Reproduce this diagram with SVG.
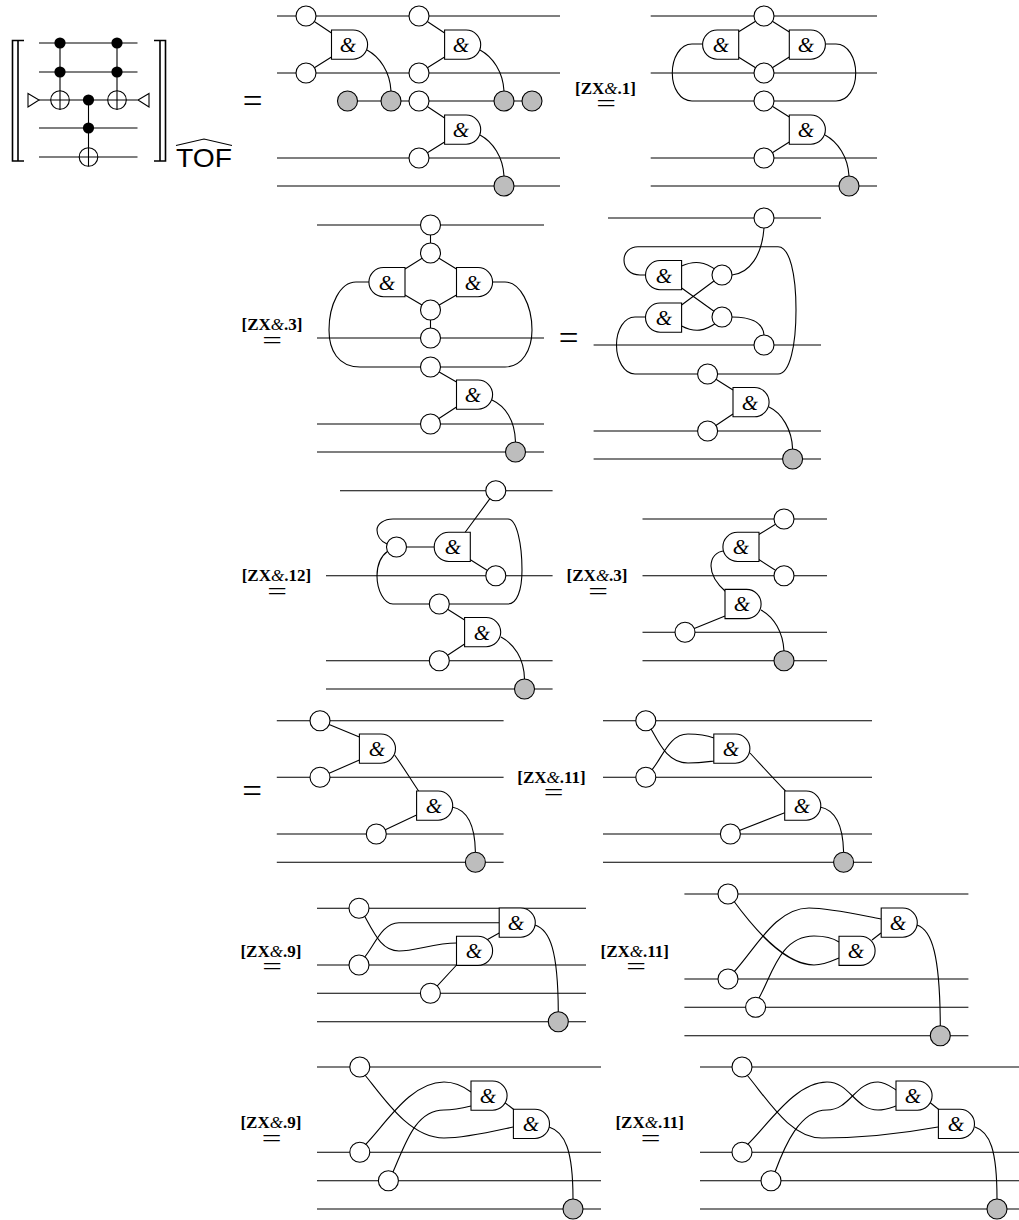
<svg xmlns="http://www.w3.org/2000/svg" width="1019" height="1220" viewBox="0 0 1019 1220">
<style>
text{font-family:"Liberation Serif","Times New Roman",serif;fill:#000}
.w{fill:none;stroke:#000;stroke-width:1.1}
.w line,.w path{fill:none;stroke:#000}
.b{fill:none;stroke:#000;stroke-width:1.6}
.s{fill:#fff;stroke:#000;stroke-width:1.1}
.g{fill:#bdbdbd;stroke:#000;stroke-width:1.1}
.d{fill:#000}
.a{font-style:italic;font-size:21px;text-anchor:middle}
.l{font-weight:bold;font-size:17px}
.m{font-style:italic;font-weight:normal}
.e{font-size:35px;text-anchor:middle}
.t{font-family:"Liberation Sans",Arial,sans-serif;font-size:25px}
</style>
<defs>
<path id="aR" class="s" d="M0,0H21.5A14.6,14.6 0 0 1 21.5,29.2H0Z"/>
<path id="aL" class="s" d="M36,0H14.5A14.6,14.6 0 0 0 14.5,29.2H36Z"/>
<circle id="c" class="s" r="10"/>
<circle id="k" class="g" r="10"/>
<circle id="dot" class="d" r="5.6"/>
<g id="x"><circle class="s" r="9.3"/><path class="w" d="M-9.3,0H9.3M0,-9.3V9.3"/></g>
</defs>

<g id="lhs">
<g id="lhs-wires" class="w">
<path d="M39,43H137.5M39,72H137.5M39,100H137.5M39,128H137.5M39,157H137.5"/>
<path d="M60,43V110M117,43V110M88.5,100V166"/>
</g>
<g id="brL"><path class="b" d="M24,40.5H12.5V161H24M18,40.5V161"/></g>
<g id="brR"><path class="b" d="M154,40.5H165.5V161H154M160,40.5V161"/></g>
<g id="d1"><use href="#dot" x="60" y="43"/></g>
<g id="d2"><use href="#dot" x="60" y="72"/></g>
<g id="d3"><use href="#dot" x="117" y="43"/></g>
<g id="d4"><use href="#dot" x="117" y="72"/></g>
<g id="d5"><use href="#dot" x="88.5" y="100"/></g>
<g id="d6"><use href="#dot" x="88.5" y="128"/></g>
<g id="x1"><use href="#x" x="60" y="100"/></g>
<g id="x2"><use href="#x" x="117" y="100"/></g>
<g id="x3"><use href="#x" x="88.5" y="157"/></g>
<g id="triL"><path class="s" d="M28,93.5V107L39,100Z"/></g>
<g id="triR"><path class="s" d="M149,93.5V107L138,100Z"/></g>
<text class="t" x="176" y="167" textLength="56" lengthAdjust="spacingAndGlyphs">TOF</text>
<path class="w" d="M176,145.5L204,139L232,145.5"/>
</g>

<text class="e" x="252.5" y="113">=</text>

<g id="p1">
<g id="p1-wires" class="w">
<path d="M277,16H560M277,73H560M277,158H560M277,186H560M347.5,101H532"/>
<path d="M306,16L331.5,33M306,73L331.5,57M419,16L444.6,33M419,73L444.6,57M419,101L444.6,118M419,158L444.6,142"/>
<path d="M367,50C380,57 390,72 391,91M480,50C493,57 503,72 504,91M480,135C493,142 503,157 504,176"/>
</g>
<g id="p1c1"><use href="#c" x="306" y="16"/></g>
<g id="p1c2"><use href="#c" x="306" y="73"/></g>
<g id="p1c3"><use href="#c" x="419" y="16"/></g>
<g id="p1c4"><use href="#c" x="419" y="73"/></g>
<g id="p1c5"><use href="#c" x="419" y="101"/></g>
<g id="p1c6"><use href="#c" x="419" y="158"/></g>
<g id="p1k1"><use href="#k" x="347.5" y="101"/></g>
<g id="p1k2"><use href="#k" x="391" y="101"/></g>
<g id="p1k3"><use href="#k" x="504" y="101"/></g>
<g id="p1k4"><use href="#k" x="532" y="101"/></g>
<g id="p1k5"><use href="#k" x="504" y="186"/></g>
<g id="p1a1"><use href="#aR" x="331.5" y="30"/><text class="a" x="348" y="52">&amp;</text></g>
<g id="p1a2"><use href="#aR" x="444.6" y="30"/><text class="a" x="461" y="52">&amp;</text></g>
<g id="p1a3"><use href="#aR" x="444.6" y="115"/><text class="a" x="461" y="137">&amp;</text></g>
</g>

<text class="l" x="575" y="94">[ZX<tspan class="m">&amp;</tspan>.1]</text>
<text class="e" transform="translate(606,111.5) scale(1,.7)">=</text>

<g id="p2">
<g id="p2-wires" class="w">
<path d="M650.7,16H877M650.7,73H877M650.7,158H877M650.7,186H877"/>
<path d="M764,16L738.3,32M764,16L789.3,32M764,73L738.3,57M764,73L789.3,57M764,101L789.3,117M764,158L789.3,142"/>
<path d="M702.7,44H692C680,44 672.3,58 672.3,73C672.3,88 680,101 692,101H836C848,101 855.7,88 855.7,73C855.7,58 848,44 836,44H825.7"/>
<path d="M825,135C838,142 848,157 849,176"/>
</g>
<g id="p2c1"><use href="#c" x="764" y="16"/></g>
<g id="p2c2"><use href="#c" x="764" y="73"/></g>
<g id="p2c3"><use href="#c" x="764" y="101"/></g>
<g id="p2c4"><use href="#c" x="764" y="158"/></g>
<g id="p2k1"><use href="#k" x="849" y="186"/></g>
<g id="p2a1"><use href="#aL" x="702.7" y="30"/><text class="a" x="721" y="52">&amp;</text></g>
<g id="p2a2"><use href="#aR" x="789.3" y="30"/><text class="a" x="806" y="52">&amp;</text></g>
<g id="p2a3"><use href="#aR" x="789.3" y="115"/><text class="a" x="806" y="137">&amp;</text></g>
</g>

<text class="l" x="241.5" y="330">[ZX<tspan class="m">&amp;</tspan>.3]</text>
<text class="e" transform="translate(272,349) scale(1,.7)">=</text>

<g id="p3">
<g id="p3-wires" class="w">
<path d="M317,225H544M317,338H544M317,424H544M317,452H544"/>
<path d="M430.5,225V253M430.5,310V338M430.5,253L405,269M430.5,253L456.5,269M430.5,310L405,295M430.5,310L456.5,295M430.5,367L456.5,382M430.5,424L456.5,407"/>
<path d="M369,282H356C340,282 329,305 329,330C329,350 338,367 360,367H505C522,367 532,350 532,330C532,305 520,282 505,282H492.5"/>
<path d="M492,400C505,406 515,420 515.5,442"/>
</g>
<g id="p3c1"><use href="#c" x="430.5" y="225"/></g>
<g id="p3c2"><use href="#c" x="430.5" y="253"/></g>
<g id="p3c3"><use href="#c" x="430.5" y="310"/></g>
<g id="p3c4"><use href="#c" x="430.5" y="338"/></g>
<g id="p3c5"><use href="#c" x="430.5" y="367"/></g>
<g id="p3c6"><use href="#c" x="430.5" y="424"/></g>
<g id="p3k1"><use href="#k" x="515.5" y="452"/></g>
<g id="p3a1"><use href="#aL" x="369" y="267.5"/><text class="a" x="387" y="289.5">&amp;</text></g>
<g id="p3a2"><use href="#aR" x="456.5" y="267.5"/><text class="a" x="473" y="289.5">&amp;</text></g>
<g id="p3a3"><use href="#aR" x="456.5" y="380"/><text class="a" x="473" y="402">&amp;</text></g>
</g>

<text class="e" x="568.5" y="350">=</text>

<g id="p4">
<g id="p4-wires" class="w">
<path d="M608,218H821M593.6,345H821M593.6,431H821M593.6,459H821"/>
<path d="M681.6,288L722,317M681.6,305L722,275M707.6,374L733,390M707.6,431L733,414"/>
<path d="M681.6,266C695,260 705,262 716,270M681.6,326C695,333 705,331 716,323"/>
<path d="M732,275C750,273 762,255 764,228M732,317C750,317 763,322 764,335"/>
<path d="M645.6,275H640C630,275 624,268 624,260C624,252 630,246.7 638,246.7H778C790,246.7 796,275 796,310C796,345 790,374 778,374H635C624,374 616.5,360 616.5,345C616.5,330 624,317 635,317H645.6"/>
<path d="M769,407C782,413 792,430 792.6,449"/>
</g>
<g id="p4c1"><use href="#c" x="764" y="218"/></g>
<g id="p4c2"><use href="#c" x="722" y="275"/></g>
<g id="p4c3"><use href="#c" x="722" y="317"/></g>
<g id="p4c4"><use href="#c" x="764" y="345"/></g>
<g id="p4c5"><use href="#c" x="707.6" y="374"/></g>
<g id="p4c6"><use href="#c" x="707.6" y="431"/></g>
<g id="p4k1"><use href="#k" x="792.6" y="459"/></g>
<g id="p4a1"><use href="#aL" x="645.6" y="260.5"/><text class="a" x="664" y="282.5">&amp;</text></g>
<g id="p4a2"><use href="#aL" x="645.6" y="303"/><text class="a" x="664" y="325">&amp;</text></g>
<g id="p4a3"><use href="#aR" x="733" y="387.5"/><text class="a" x="750" y="409.5">&amp;</text></g>
</g>

<text class="l" x="241.7" y="580.7">[ZX<tspan class="m">&amp;</tspan>.12]</text>
<text class="e" transform="translate(277,599.5) scale(1,.7)">=</text>

<g id="p5">
<g id="p5-wires" class="w">
<path d="M340,490.7H552.6M326,575.7H552.6M326,660.7H552.6M326,689H552.6"/>
<path d="M396.5,547H434.3M465,532.5L495.8,490.7M470,559.5L495.8,575.7M439.3,604L464.6,620M439.3,660.7L464.6,644"/>
<path d="M387,544C380,541 377,535 377,530C377,524 384,519 393,519H508C517,519 522,545 522,570C522,590 517,604 508,604H393C384,604 377,590 377,576C377,565 381,556 388,551"/>
<path d="M501,637C514,644 524,658 524.5,679"/>
</g>
<g id="p5c1"><use href="#c" x="495.8" y="490.7"/></g>
<g id="p5c2"><use href="#c" x="396.5" y="547"/></g>
<g id="p5c3"><use href="#c" x="495.8" y="575.7"/></g>
<g id="p5c4"><use href="#c" x="439.3" y="604"/></g>
<g id="p5c5"><use href="#c" x="439.3" y="660.7"/></g>
<g id="p5k1"><use href="#k" x="524.5" y="689"/></g>
<g id="p5a1"><use href="#aL" x="434.3" y="532.3"/><text class="a" x="453" y="554.3">&amp;</text></g>
<g id="p5a2"><use href="#aR" x="464.6" y="617.5"/><text class="a" x="482" y="639.5">&amp;</text></g>
</g>

<text class="l" x="566.6" y="580.7">[ZX<tspan class="m">&amp;</tspan>.3]</text>
<text class="e" transform="translate(598,599.5) scale(1,.7)">=</text>

<g id="p6">
<g id="p6-wires" class="w">
<path d="M642.5,519H827M642.5,575.7H827M642.5,632.3H827M642.5,660.7H827"/>
<path d="M758.8,534.5L784,519M758.8,559.5L784,575.7M725,616L685,632.3"/>
<path d="M725,551C716,551 711,558 711,566C711,575 717,584 726,592"/>
<path d="M761,610C774,617 783,632 784,651"/>
</g>
<g id="p6c1"><use href="#c" x="784" y="519"/></g>
<g id="p6c2"><use href="#c" x="784" y="575.7"/></g>
<g id="p6c3"><use href="#c" x="685" y="632.3"/></g>
<g id="p6k1"><use href="#k" x="784" y="660.7"/></g>
<g id="p6a1"><use href="#aL" x="723" y="532.3"/><text class="a" x="741" y="554.3">&amp;</text></g>
<g id="p6a2"><use href="#aR" x="725" y="589.4"/><text class="a" x="742" y="611.4">&amp;</text></g>
</g>

<text class="e" x="252" y="803">=</text>

<g id="p7">
<g id="p7-wires" class="w">
<path d="M276.8,720.7H503.6M276.8,777.3H503.6M276.8,834H503.6M276.8,862.3H503.6"/>
<path d="M320,720.7L359.4,737M320,777.3L359.4,760M376.3,834L416.6,815"/>
<path d="M394.6,755C404,768 411,780 418.6,791M452,807C468,810 475,825 475.4,852"/>
</g>
<g id="p7c1"><use href="#c" x="320" y="720.7"/></g>
<g id="p7c2"><use href="#c" x="320" y="777.3"/></g>
<g id="p7c3"><use href="#c" x="376.3" y="834"/></g>
<g id="p7k1"><use href="#k" x="475.4" y="862.3"/></g>
<g id="p7a1"><use href="#aR" x="359.4" y="734"/><text class="a" x="377" y="756">&amp;</text></g>
<g id="p7a2"><use href="#aR" x="416.6" y="791"/><text class="a" x="434" y="813">&amp;</text></g>
</g>

<text class="l" x="517.3" y="782.7">[ZX<tspan class="m">&amp;</tspan>.11]</text>
<text class="e" transform="translate(553.5,801) scale(1,.7)">=</text>

<g id="p8">
<g id="p8-wires" class="w">
<path d="M603,720.7H872M603,777.3H872M603,834H872M603,862.3H872"/>
<path d="M650,727C660,745 668,763 688,763C700,763 706,762 714,761M650,772C662,760 668,734 688,734C700,734 706,735 714,738"/>
<path d="M750,753C762,766 774,779 785.5,791M730.4,834L784.7,812.7"/>
<path d="M820,807C836,810 843,825 843.6,852"/>
</g>
<g id="p8c1"><use href="#c" x="645.8" y="720.7"/></g>
<g id="p8c2"><use href="#c" x="645.8" y="777.3"/></g>
<g id="p8c3"><use href="#c" x="730.4" y="834"/></g>
<g id="p8k1"><use href="#k" x="843.6" y="862.3"/></g>
<g id="p8a1"><use href="#aR" x="713.8" y="734"/><text class="a" x="731" y="756">&amp;</text></g>
<g id="p8a2"><use href="#aR" x="784.7" y="791"/><text class="a" x="802" y="813">&amp;</text></g>
</g>

<text class="l" x="240.4" y="956.7">[ZX<tspan class="m">&amp;</tspan>.9]</text>
<text class="e" transform="translate(272,974.5) scale(1,.7)">=</text>

<g id="p9">
<g id="p9-wires" class="w">
<path d="M317,908.3H586M317,965H586M317,993.3H586M317,1021.7H586"/>
<path d="M364,915C375,935 382,951 399,951C415,951 435,943 456.5,943"/>
<path d="M364,958C375,945 382,922.7 399,922.7H499"/>
<path d="M486.6,940L499.2,933M430.4,993.3L457.5,964"/>
<path d="M535,925C550,930 558,950 558.3,1012"/>
</g>
<g id="p9c1"><use href="#c" x="359" y="908.3"/></g>
<g id="p9c2"><use href="#c" x="359" y="965"/></g>
<g id="p9c3"><use href="#c" x="430.4" y="993.3"/></g>
<g id="p9k1"><use href="#k" x="558.3" y="1021.7"/></g>
<g id="p9a1"><use href="#aR" x="499.2" y="908"/><text class="a" x="516" y="930">&amp;</text></g>
<g id="p9a2"><use href="#aR" x="456.5" y="936.2"/><text class="a" x="474" y="958">&amp;</text></g>
</g>

<text class="l" x="600.5" y="956.7">[ZX<tspan class="m">&amp;</tspan>.11]</text>
<text class="e" transform="translate(636,974.5) scale(1,.7)">=</text>

<g id="p10">
<g id="p10-wires" class="w">
<path d="M684.4,894H968.4M684.4,979H968.4M684.4,1007.3H968.4M684.4,1035.7H968.4"/>
<path d="M733,900C755,930 785,965 814,965C825,965 832,961 839,958"/>
<path d="M733,973C755,950 775,908 809,908C830,908 860,915 881,919"/>
<path d="M759,998C772,975 780,936 814,936C825,936 833,938 839,942"/>
<path d="M872,940L881,933"/>
<path d="M917,925C932,930 940,955 940.3,1026"/>
</g>
<g id="p10c1"><use href="#c" x="728" y="894"/></g>
<g id="p10c2"><use href="#c" x="728" y="979"/></g>
<g id="p10c3"><use href="#c" x="755.6" y="1007.3"/></g>
<g id="p10k1"><use href="#k" x="940.3" y="1035.7"/></g>
<g id="p10a1"><use href="#aR" x="881.2" y="908"/><text class="a" x="898" y="930">&amp;</text></g>
<g id="p10a2"><use href="#aR" x="839" y="936.2"/><text class="a" x="856" y="958">&amp;</text></g>
</g>

<text class="l" x="240.4" y="1128.3">[ZX<tspan class="m">&amp;</tspan>.9]</text>
<text class="e" transform="translate(271.5,1146.5) scale(1,.7)">=</text>

<g id="p11">
<g id="p11-wires" class="w">
<path d="M317,1067H601M317,1152.3H601M317,1180.7H601M317,1209H601"/>
<path d="M365,1075C385,1100 410,1138 444,1138C465,1138 490,1132 513,1127"/>
<path d="M365,1145C385,1125 410,1082 444,1082C455,1082 463,1086 471,1092"/>
<path d="M393,1172C405,1145 415,1110 444,1110C455,1110 463,1108 471,1106"/>
<path d="M503.7,1101.7L514.4,1110"/>
<path d="M549,1127C565,1132 573,1150 573,1199"/>
</g>
<g id="p11c1"><use href="#c" x="359.8" y="1067"/></g>
<g id="p11c2"><use href="#c" x="359.8" y="1152.3"/></g>
<g id="p11c3"><use href="#c" x="388.4" y="1180.7"/></g>
<g id="p11k1"><use href="#k" x="573" y="1209"/></g>
<g id="p11a1"><use href="#aR" x="471" y="1081"/><text class="a" x="488" y="1103">&amp;</text></g>
<g id="p11a2"><use href="#aR" x="513.4" y="1109.3"/><text class="a" x="531" y="1131">&amp;</text></g>
</g>

<text class="l" x="615.4" y="1128.3">[ZX<tspan class="m">&amp;</tspan>.11]</text>
<text class="e" transform="translate(650.5,1146.5) scale(1,.7)">=</text>

<g id="p12">
<g id="p12-wires" class="w">
<path d="M700,1067H1019M700,1152.3H1019M700,1180.7H1019M700,1209H1019"/>
<path d="M747,1075C768,1100 790,1138 822,1138C860,1138 905,1133 938,1127"/>
<path d="M747,1145C768,1125 795,1082 827,1082C850,1082 855,1110 878,1110C885,1110 890,1108 896,1106"/>
<path d="M775,1172C785,1145 800,1110 827,1110C850,1110 855,1082 878,1082C885,1082 890,1086 896,1090"/>
<path d="M929,1101.7L939.4,1110"/>
<path d="M975,1127C990,1132 997,1150 997,1199"/>
</g>
<g id="p12c1"><use href="#c" x="742" y="1067"/></g>
<g id="p12c2"><use href="#c" x="742" y="1152.3"/></g>
<g id="p12c3"><use href="#c" x="771" y="1180.7"/></g>
<g id="p12k1"><use href="#k" x="997" y="1209"/></g>
<g id="p12a1"><use href="#aR" x="896" y="1081"/><text class="a" x="913" y="1103">&amp;</text></g>
<g id="p12a2"><use href="#aR" x="938.4" y="1109.3"/><text class="a" x="956" y="1131">&amp;</text></g>
</g>
</svg>
